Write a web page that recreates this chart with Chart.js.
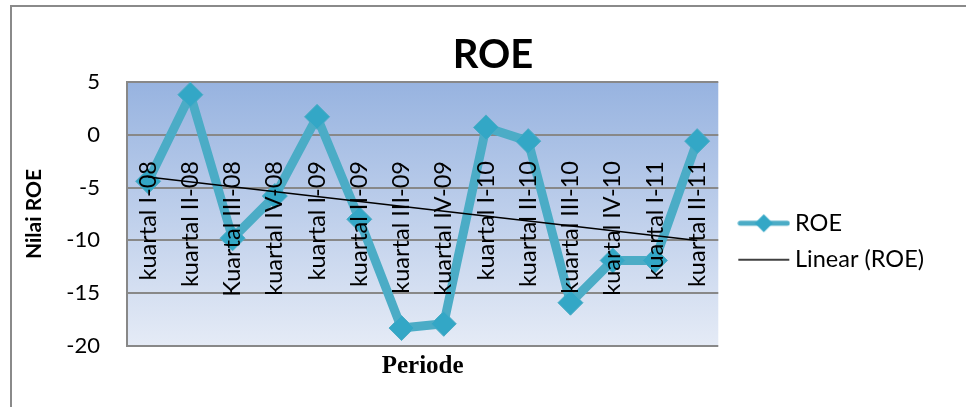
<!DOCTYPE html>
<html><head><meta charset="utf-8">
<script src="https://cdn.jsdelivr.net/npm/chart.js@4.4.0/dist/chart.umd.min.js"></script>
<style>html,body{margin:0;padding:0;background:#fff;} #wrap{width:966px;height:407px;position:relative;}</style>
</head><body><div id="wrap"><canvas id="c" width="966" height="407"></canvas></div>
<script>
// ---- data ----
const categories = ["kuartal I-08","kuartal II-08","Kuartal III-08","kuartal IV-08","kuartal I-09","kuartal II-09","kuartal III-09","kuartal IV-09","kuartal I-10","kuartal II-10","kuartal III-10","kuartal IV-10","kuartal I-11","kuartal II-11"];
const roeValues = [-4.4, 3.8, -9.8, -5.8, 1.7, -8.0, -18.3, -17.9, 0.7, -0.6, -15.9, -11.9, -11.9, -0.6];
const trendEnds = [-4.0, -10.0];
const yTickMin = -20, yTickMax = 5, yTickStep = 5;
const chartTitle = "ROE";
const yTitle = "Nilai ROE";
const xTitle = "Periode";
const seriesLabel = "ROE";
const trendLabel = "Linear (ROE)";

const LINE = '#4BACC6', MARK = '#33A7C6';

function makeIcon(kind){
  const cv = document.createElement('canvas');
  cv.width = 53; cv.height = 24;
  const g = cv.getContext('2d');
  if (kind === 'roe'){
    g.strokeStyle = LINE; g.lineWidth = 5; g.lineCap = 'round';
    g.beginPath(); g.moveTo(3,12); g.lineTo(50,12); g.stroke();
    g.fillStyle = MARK;
    g.beginPath(); g.moveTo(26.5,3); g.lineTo(35.5,12); g.lineTo(26.5,21); g.lineTo(17.5,12); g.closePath(); g.fill();
  } else {
    g.strokeStyle = '#000'; g.lineWidth = 1.5;
    g.beginPath(); g.moveTo(1,12); g.lineTo(52,12); g.stroke();
  }
  return cv;
}
const iconROE = makeIcon('roe'), iconLin = makeIcon('lin');

const bgPlugin = {
  id: 'bg',
  beforeDraw(chart){
    const {ctx, chartArea: a} = chart;
    ctx.save();
    const gr = ctx.createLinearGradient(0, a.top, 0, a.bottom);
    gr.addColorStop(0, '#97B3E0');
    gr.addColorStop(1, '#E5EBF6');
    ctx.fillStyle = gr;
    ctx.fillRect(a.left, a.top, a.right - a.left, a.bottom - a.top);
    // outer frame (cropped)
    ctx.fillStyle = '#8A8A8A';
    ctx.fillRect(10, 5, 956, 2);
    ctx.fillRect(10, 5, 2, 402);
    ctx.restore();
  }
};

// category labels drawn inside the plot, rotated, at the x scale's own tick positions
const catLabelPlugin = {
  id: 'catLabels',
  afterDatasetsDraw(chart){
    const {ctx, chartArea: a} = chart;
    const xs = chart.scales.x;
    ctx.save();
    ctx.fillStyle = '#000';
    ctx.font = '23.5px Lato';
    ctx.textAlign = 'right';
    ctx.textBaseline = 'middle';
    const topY = a.top + 79;
    chart.data.labels.forEach((lab, i) => {
      const px = xs.getPixelForValue(i);
      ctx.save();
      ctx.translate(px, topY);
      ctx.rotate(-Math.PI / 2);
      ctx.fillText(lab, 0, 0);
      ctx.restore();
    });
    ctx.restore();
  }
};

new Chart(document.getElementById('c'), {
  type: 'line',
  data: {
    labels: categories,
    datasets: [
      {
        label: seriesLabel, data: roeValues, order: 2,
        borderColor: LINE, borderWidth: 9, borderJoinStyle: 'round', borderCapStyle: 'round',
        pointStyle: 'rectRot', pointRadius: 12.5, pointBackgroundColor: MARK, pointBorderColor: LINE, pointBorderWidth: 1,
        tension: 0
      },
      {
        label: trendLabel, order: 1,
        data: [{x: categories[0], y: trendEnds[0]}, {x: categories[categories.length-1], y: trendEnds[1]}],
        borderColor: '#000', borderWidth: 1.5, pointRadius: 0
      }
    ]
  },
  options: {
    responsive: false, animation: false, devicePixelRatio: 1,
    layout: { padding: { left: 52, right: 32, top: 0, bottom: 21 } },
    plugins: {
      tooltip: { enabled: false },
      title: { display: true, text: chartTitle, color: '#000',
        font: { family: 'Lato', size: 40, weight: 'bold', lineHeight: 1.2 },
        padding: { top: 31, bottom: 3 } },
      legend: {
        position: 'right', maxWidth: 400,
        title: { display: true, text: '', font: { size: 10, lineHeight: 1.2 }, padding: { top: 85, bottom: 0 } },
        labels: {
          usePointStyle: true, pointStyleWidth: 39, padding: 13, color: '#000',
          font: { family: 'Lato', size: 23.5 },
          generateLabels: () => [
            { text: seriesLabel, pointStyle: iconROE, fillStyle: LINE, strokeStyle: LINE, lineWidth: 0, hidden: false, datasetIndex: 0, fontColor: '#000' },
            { text: trendLabel, pointStyle: iconLin, fillStyle: '#000', strokeStyle: '#000', lineWidth: 0, hidden: false, datasetIndex: 1, fontColor: '#000' }
          ]
        }
      }
    },
    scales: {
      x: {
        type: 'category', position: 'bottom', offset: true,
        grid: { display: false, drawTicks: false, offset: true },
        border: { display: false },
        ticks: { display: false },
        title: { display: true, text: xTitle, color: '#000',
          font: { family: 'Liberation Serif', size: 25, weight: 'bold', lineHeight: 1.2 },
          padding: { top: 0, bottom: 4 } },
        afterFit: (s) => { s.height = 40; }
      },
      y: {
        type: 'linear', position: 'left', min: yTickMin, max: yTickMax,
        grid: { color: '#888888', lineWidth: 2, drawTicks: false },
        border: { display: true, color: '#888888', width: 2 },
        ticks: { stepSize: yTickStep, padding: 27, color: '#000', font: { family: 'Lato', size: 22 } },
        title: { display: true, text: yTitle, color: '#000',
          font: { family: 'Lato', size: 21, weight: 'bold', lineHeight: 1.2 },
          padding: { top: -30, bottom: 0 } },
        afterFit: (s) => { s.width = 75; }
      },
      pad: {
        type: 'linear', position: 'right', display: true,
        grid: { display: false, drawTicks: false }, border: { display: false },
        ticks: { display: false },
        afterFit: (s) => { s.width = 13; }
      }
    }
  },
  plugins: [bgPlugin, catLabelPlugin]
});
</script>
</body></html>
